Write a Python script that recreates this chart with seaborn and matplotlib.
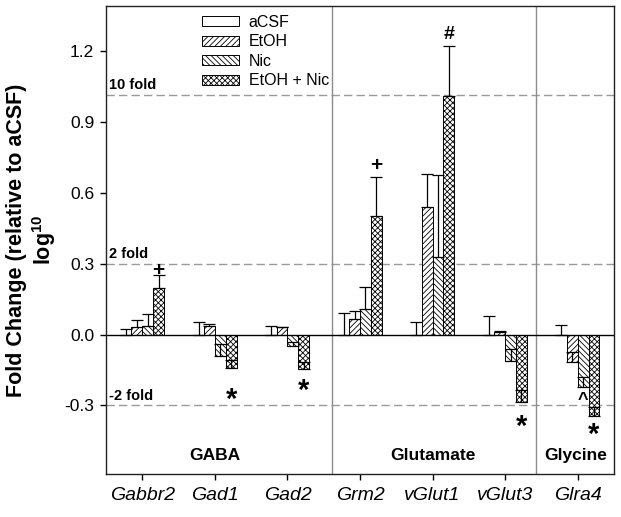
import numpy as np
import pandas as pd
import matplotlib
matplotlib.use('Agg')
import matplotlib.pyplot as plt
import seaborn as sns
from matplotlib.transforms import blended_transform_factory

genes = ['Gabbr2', 'Gad1', 'Gad2', 'Grm2', 'vGlut1', 'vGlut3', 'Glra4']
treatments = ['aCSF', 'EtOH', 'Nic', 'EtOH + Nic']

# log10 fold change (relative to aCSF) and upper error (SEM)
acsf = [0.0, 0.0, 0.0, 0.0, 0.0, 0.0, 0.0]
acsf_err = [0.025, 0.052, 0.035, 0.09, 0.052, 0.077, 0.039]
etoh = [0.03, 0.038, 0.03, 0.065, 0.54, 0.012, -0.118]
etoh_err = [0.03, 0.005, 0.004, 0.035, 0.14, 0.003, 0.043]
nic = [0.035, -0.092, -0.05, 0.108, 0.33, -0.113, -0.22]
nic_err = [0.052, 0.05, 0.02, 0.092, 0.345, 0.05, 0.04]
combo = [0.198, -0.141, -0.145, 0.5, 1.01, -0.287, -0.345]
combo_err = [0.052, 0.035, 0.03, 0.167, 0.21, 0.054, 0.04]

fold_lines = [1.015, 0.3, -0.3]
fold_labels = ['10 fold', '2 fold', '-2 fold']

groups = ['GABA', 'Glutamate', 'Glycine']
group_x = [1.0, 4.0, 5.97]
group_sep = [2.61, 5.43]

# significance marks: gene, treatment, symbol, y
marks = [('Gabbr2', 'EtOH + Nic', '+', 0.27),
         ('Gad1', 'EtOH + Nic', '*', -0.246),
         ('Gad2', 'EtOH + Nic', '*', -0.21),
         ('Grm2', 'EtOH + Nic', '+', 0.717),
         ('vGlut1', 'EtOH + Nic', '#', 1.27),
         ('vGlut3', 'EtOH + Nic', '*', -0.36),
         ('Glra4', 'Nic', '^', -0.263),
         ('Glra4', 'EtOH + Nic', '*', -0.395)]

sns.set_style('ticks')
plt.rcParams['font.family'] = ['Liberation Sans', 'DejaVu Sans']
plt.rcParams['mathtext.fontset'] = 'custom'
plt.rcParams['mathtext.rm'] = 'Liberation Sans:bold'
plt.rcParams['mathtext.bf'] = 'Liberation Sans:bold'
plt.rcParams['hatch.linewidth'] = 0.6
plt.rcParams['hatch.color'] = '#333333'
for key in ['text.color', 'axes.labelcolor', 'xtick.color', 'ytick.color']:
    plt.rcParams[key] = 'black'

vals = [acsf, etoh, nic, combo]
errs = [acsf_err, etoh_err, nic_err, combo_err]
df = pd.DataFrame({
    'gene': genes * 4,
    'treatment': np.repeat(treatments, len(genes)),
    'value': np.concatenate(vals),
})

fig = plt.figure(figsize=(6.21, 5.17), dpi=100)
ax = fig.add_axes([0.1707, 0.0832, 0.818, 0.905])

sns.barplot(data=df, x='gene', y='value', hue='treatment',
            order=genes, hue_order=treatments, width=0.6,
            palette=['white'] * 4, edgecolor='black', linewidth=0.7,
            errorbar=None, ax=ax)

hatches = ['', '//////', '\\\\\\\\\\\\', 'xxxxxx']
centers = {}
for cont, hatch, tr, e in zip(ax.containers, hatches, treatments, errs):
    xs, ys = [], []
    for bar, g in zip(cont, genes):
        bar.set_hatch(hatch)
        x = bar.get_x() + bar.get_width() / 2
        centers[(g, tr)] = x
        xs.append(x)
        ys.append(bar.get_height())
    ax.errorbar(xs, ys, yerr=[np.zeros(len(e)), e], fmt='none',
                ecolor='black', elinewidth=0.9, capsize=4, capthick=0.9,
                zorder=3)

ax.axhline(0, color='black', lw=1, zorder=2)
trans = blended_transform_factory(ax.transAxes, ax.transData)
for yv, lab in zip(fold_lines, fold_labels):
    ax.axhline(yv, color='#9a9a9a', lw=1, ls=(0, (6, 3)), zorder=0)
    ax.text(0.006, yv + 0.012, lab, transform=trans, fontsize=10.5,
            fontweight='bold', ha='left', va='bottom')
for xv in group_sep:
    ax.axvline(xv, color='#8c8c8c', lw=1, zorder=0)
for xv, lab in zip(group_x, groups):
    ax.text(xv, -0.513, lab, fontsize=12.5, fontweight='bold',
            ha='center', va='center')

sizes = {'*': 21, '+': 15, '#': 14, '^': 13}
offs = {'*': -0.03, '+': 0.0, '#': 0.0, '^': -0.015}
for g, tr, sym, yv in marks:
    ax.text(centers[(g, tr)], yv + offs[sym], sym, fontsize=sizes[sym],
            fontweight='bold', ha='center', va='center')

ax.set_xlim(-0.5, 6.5)
ax.set_ylim(-0.59, 1.39)
ax.set_yticks([-0.3, 0.0, 0.3, 0.6, 0.9, 1.2])
ax.set_yticklabels([f'{v:.1f}' for v in [-0.3, 0.0, 0.3, 0.6, 0.9, 1.2]])
ax.tick_params(axis='y', labelsize=12.5, length=4.5, width=1, pad=4)
ax.tick_params(axis='x', labelsize=14, length=4.5, width=1, pad=5)
for lab in ax.get_xticklabels():
    lab.set_fontstyle('italic')
for sp in ax.spines.values():
    sp.set_visible(True)
    sp.set_linewidth(1)
    sp.set_color('#222222')

ax.set_xlabel('')
ax.set_ylabel('Fold Change (relative to aCSF)\nlog$^{10}$', fontsize=15.5,
              fontweight='bold', linespacing=1.15)
ax.yaxis.set_label_coords(-0.095, 0.5)

ax.legend(ax.containers, treatments, loc='upper left',
          bbox_to_anchor=(0.177, 0.995), frameon=False, fontsize=11.5,
          handlelength=2.3, handleheight=0.6, labelspacing=0.28,
          handletextpad=0.6, borderaxespad=0.0)

fig.savefig('out.png', dpi=100)
